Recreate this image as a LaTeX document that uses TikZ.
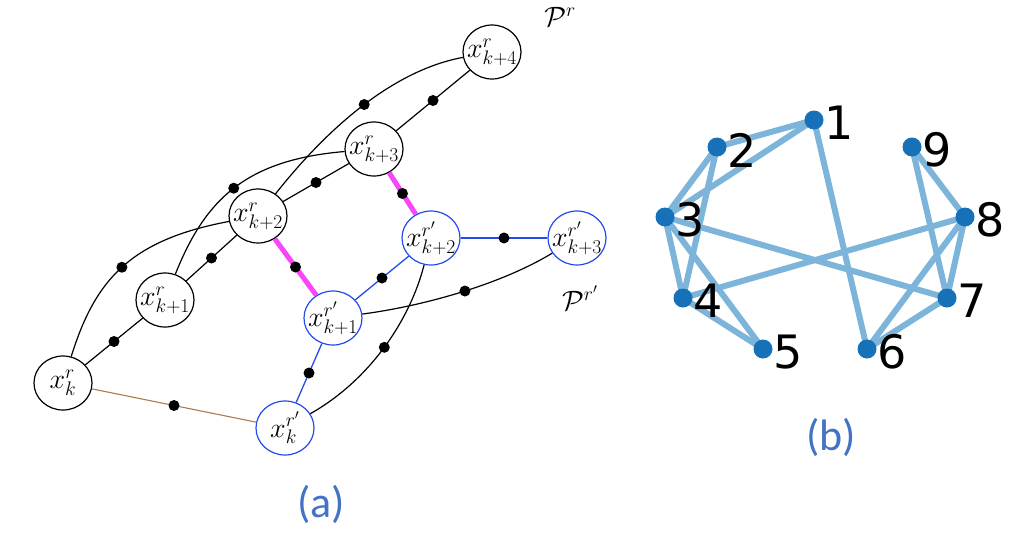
\RequirePackage{fix-cm}
\documentclass[tikz,border=0pt]{standalone}
\usepackage{fontspec}
\newfontfamily\digitfont{DejaVu Sans}
\newfontfamily\capfont{Carlito}
\usetikzlibrary{shapes.geometric}
\definecolor{nodeblue}{RGB}{35,75,235}
\definecolor{magentaedge}{RGB}{250,70,250}
\definecolor{brownedge}{RGB}{176,122,72}
\definecolor{gnodecol}{RGB}{22,113,184}
\definecolor{gedgecol}{RGB}{125,180,218}
\definecolor{capblue}{RGB}{68,114,196}
\tikzset{
  pnode/.style={ellipse, draw=black, fill=white, line width=1.2pt, minimum width=58pt, minimum height=54pt, inner sep=0pt, font=\fontsize{28}{30}\selectfont},
  qnode/.style={pnode, draw=nodeblue},
  mdot/.style={circle, fill=black, inner sep=0pt, minimum size=11pt},
  blk/.style={line width=1.2pt, draw=black},
  mag/.style={line width=5pt, draw=magentaedge},
  bl/.style={line width=1.3pt, draw=nodeblue},
  brn/.style={line width=1.1pt, draw=brownedge},
  gnode/.style={circle, fill=gnodecol, inner sep=0pt, minimum size=19pt},
  gedge/.style={line width=6pt, draw=gedgecol},
  glab/.style={anchor=west, inner sep=0pt, font=\digitfont\fontsize{46}{50}\selectfont},
  plab/.style={inner sep=0pt, font=\fontsize{28}{30}\selectfont},
  captext/.style={inner sep=0pt, text=capblue, font=\capfont\fontsize{44}{48}\selectfont}
}
\begin{document}
\begin{tikzpicture}[x=1pt,y=-1pt]
\useasboundingbox (0,0) rectangle (1031,544);
% (a) nodes
\node[pnode] (xk)  at (63,383)  {\makebox[0pt]{$x^{r}_{k}$}};
\node[pnode] (xk1) at (165,300) {\makebox[0pt]{$x^{r}_{k+1}$}};
\node[pnode] (xk2) at (258,216) {\makebox[0pt]{$x^{r}_{k+2}$}};
\node[pnode] (xk3) at (374,149) {\makebox[0pt]{$x^{r}_{k+3}$}};
\node[pnode] (xk4) at (492,52)  {\makebox[0pt]{$x^{r}_{k+4}$}};
\node[qnode] (yk)  at (285,428) {\makebox[0pt]{$x^{r'}_{k}$}};
\node[qnode] (yk1) at (333,318) {\makebox[0pt]{$x^{r'}_{k+1}$}};
\node[qnode] (yk2) at (431,238) {\makebox[0pt]{$x^{r'}_{k+2}$}};
\node[qnode] (yk3) at (577,238) {\makebox[0pt]{$x^{r'}_{k+3}$}};
\node[plab] (pr)  at (560,17)  {$\mathcal{P}^{r}$};
\node[plab] (prp) at (580,298) {$\mathcal{P}^{r'}$};
% (a) edges
\draw[blk] (xk) -- (xk1) node[mdot, midway] (d1) {};
\draw[blk] (xk1) -- (xk2) node[mdot, midway] (d2) {};
\draw[blk] (xk2) -- (xk3) node[mdot, midway] (d3) {};
\draw[blk] (xk3) -- (xk4) node[mdot, midway] (d4) {};
\draw[blk] (xk) .. controls (95,280) and (130,240) .. (xk2) node[mdot, pos=0.5] (d5) {};
\draw[blk] (xk1) .. controls (205,200) and (245,160) .. (xk3) node[mdot, pos=0.5] (d6) {};
\draw[blk] (xk2) .. controls (330,125) and (395,70) .. (xk4) node[mdot, pos=0.5] (d7) {};
\draw[mag] (xk2) -- (yk1) node[mdot, midway] (d8) {};
\draw[mag] (xk3) -- (yk2) node[mdot, midway] (d9) {};
\draw[brn] (xk) -- (yk) node[mdot, midway] (d10) {};
\draw[bl] (yk) -- (yk1) node[mdot, midway] (d11) {};
\draw[bl] (yk1) -- (yk2) node[mdot, midway] (d12) {};
\draw[bl, line width=2pt] (yk2) -- (yk3) node[mdot, midway] (d13) {};
\draw[blk] (yk) .. controls (370,380) and (410,320) .. (yk2) node[mdot, pos=0.5] (d14) {};
\draw[blk] (yk1) .. controls (430,305) and (505,282) .. (yk3) node[mdot, pos=0.5] (d15) {};
% (b) graph
\coordinate (c1) at (814,120);
\coordinate (c2) at (717,147);
\coordinate (c3) at (665,217);
\coordinate (c4) at (683,298);
\coordinate (c5) at (763,349);
\coordinate (c6) at (867,349);
\coordinate (c7) at (947,298);
\coordinate (c8) at (965,217);
\coordinate (c9) at (912,147);
\draw[gedge] (c1) -- (c2);
\draw[gedge] (c1) -- (c3);
\draw[gedge] (c1) -- (c6);
\draw[gedge] (c2) -- (c3);
\draw[gedge] (c2) -- (c4);
\draw[gedge] (c3) -- (c4);
\draw[gedge] (c3) -- (c5);
\draw[gedge] (c3) -- (c7);
\draw[gedge] (c4) -- (c5);
\draw[gedge] (c4) -- (c8);
\draw[gedge] (c9) -- (c8);
\draw[gedge] (c9) -- (c7);
\draw[gedge] (c8) -- (c7);
\draw[gedge] (c8) -- (c6);
\draw[gedge] (c7) -- (c6);
\foreach \i in {1,...,9} {
  \node[gnode] (g\i) at (c\i) {};
  \node[glab] (l\i) at ([shift={(10pt,-3pt)}]c\i) {\i};
}
% captions
\node[captext] (capa) at (321,504) {(a)};
\node[captext] (capb) at (831,437) {(b)};
\end{tikzpicture}
\end{document}
